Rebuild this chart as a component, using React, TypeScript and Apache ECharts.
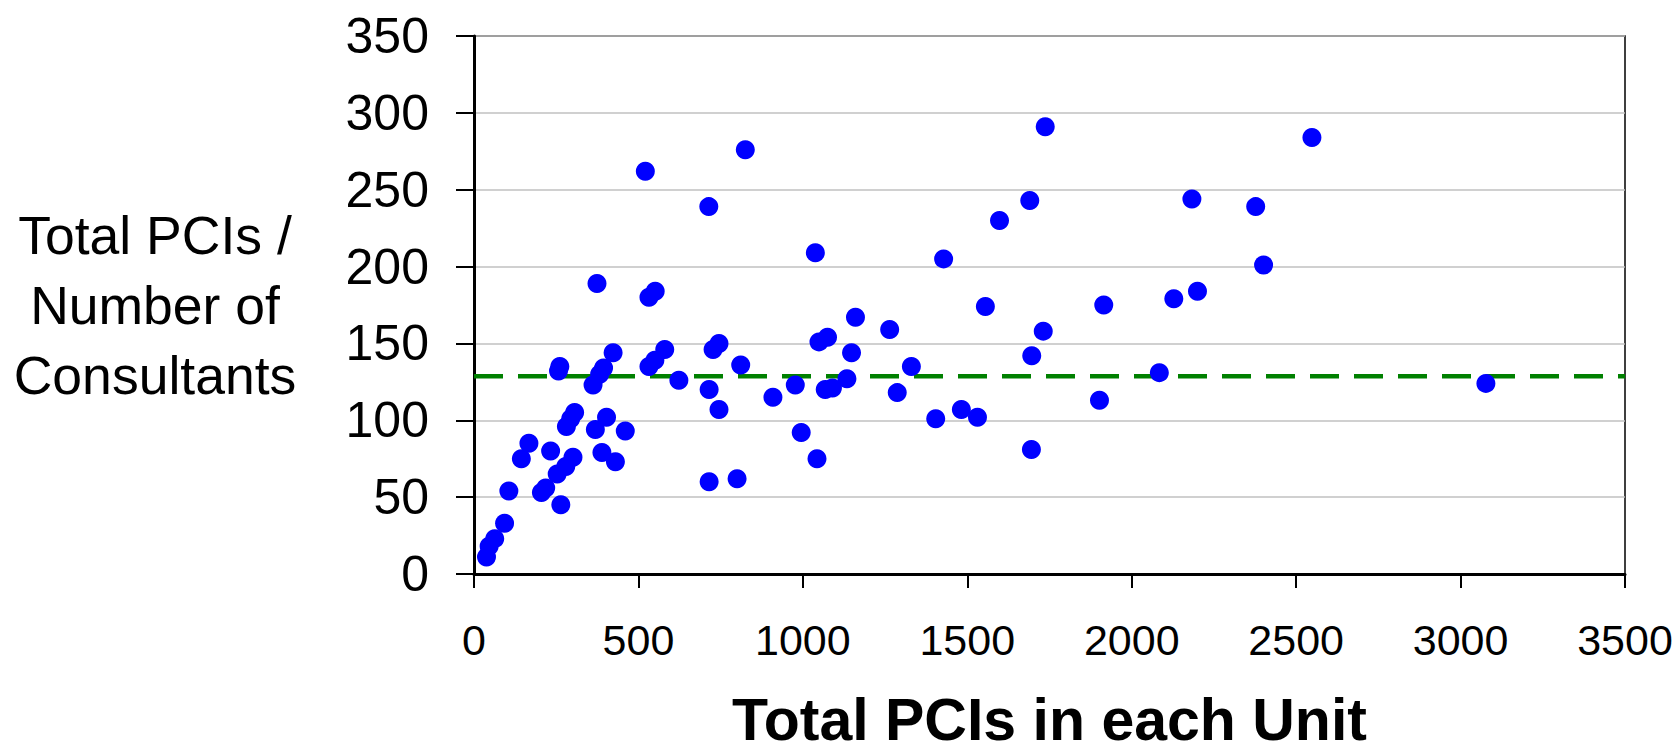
import React, { useEffect, useRef } from "react";
import * as echarts from "echarts";

const totalPCIs: number[] = [
  521, 825, 714, 1038, 374, 551, 532, 1160, 1737, 1690, 1598, 2183, 2377, 1428, 2401, 1555,
  1915, 2128, 2200, 2548, 261, 257, 362, 382, 394, 423, 532, 550, 580, 623, 715, 727, 745,
  745, 811, 909, 977, 995, 1043, 1049, 1075, 1148, 1068, 1090, 1134, 715, 800, 306, 294, 281,
  403, 369, 460, 167, 144, 233, 301, 279, 253, 389, 430, 106, 205, 218, 264, 93, 63, 46, 38,
  1264, 1330, 1287, 1404, 1482, 1531, 1731, 1696, 1695, 1902, 2084, 3077,
];
const pcisPerConsultant: number[] = [
  262, 276, 239, 209, 189, 184, 180, 167, 291, 243, 230, 244, 239, 205, 201, 174,
  175, 179, 184, 284, 135, 132, 123, 130, 134, 144, 135, 139, 146, 126, 120, 146, 150,
  107, 136, 115, 123, 92, 75, 151, 154, 144, 120, 121, 127, 60, 62, 105, 101, 96,
  102, 94, 93, 85, 75, 80, 76, 70, 65, 79, 73, 54, 53, 56, 45, 33, 23, 18, 11,
  159, 135, 118, 101, 107, 102, 158, 142, 81, 113, 131, 124,
];
const averageValue = 128.7;
const xRange: number[] = [0, 3500];
const yTicks: number[] = [0, 50, 100, 150, 200, 250, 300, 350];
const xTicks: number[] = [0, 500, 1000, 1500, 2000, 2500, 3000, 3500];

const FONT = "'Liberation Sans', Arial, Helvetica, sans-serif";
const W = 1677;
const H = 753;

export default function App() {
  const ref = useRef<HTMLDivElement>(null);
  useEffect(() => {
    if (!ref.current) return;
    document.body.style.margin = "0";
    document.body.style.overflow = "hidden";
    const chart = echarts.init(ref.current, null, { renderer: "svg", width: W, height: H });
    const points = totalPCIs.map((x, i) => [x, pcisPerConsultant[i]]);
    chart.setOption({
      animation: false,
      backgroundColor: "#ffffff",
      grid: {
        left: 474,
        right: 52,
        top: 36,
        bottom: 179,
        show: true,
        borderColor: "#000000",
        borderWidth: 1.5,
        backgroundColor: "transparent",
        containLabel: false,
        outerBoundsMode: "none",
      },
      xAxis: {
        type: "value",
        min: xTicks[0],
        max: xTicks[xTicks.length - 1],
        interval: xTicks[1] - xTicks[0],
        name: "Total PCIs in each Unit",
        nameLocation: "middle",
        nameGap: 146,
        nameTextStyle: {
          fontFamily: FONT,
          fontSize: 59,
          fontWeight: "bold",
          color: "#000",
          verticalAlign: "middle",
          lineHeight: 59,
        },
        axisLine: { show: true, onZero: false, lineStyle: { color: "#000", width: 3 } },
        axisTick: { show: true, inside: false, length: 14, lineStyle: { color: "#000", width: 2 } },
        axisLabel: {
          fontFamily: FONT,
          fontSize: 43,
          color: "#000",
          margin: 44,
          formatter: (v: number) => String(v),
        },
        splitLine: { show: false },
      },
      yAxis: {
        type: "value",
        min: yTicks[0],
        max: yTicks[yTicks.length - 1],
        interval: yTicks[1] - yTicks[0],
        name: "Total PCIs /\nNumber of\nConsultants",
        nameLocation: "middle",
        nameRotate: 0,
        nameGap: 319,
        nameTextStyle: {
          fontFamily: FONT,
          fontSize: 53.5,
          color: "#000",
          align: "center",
          verticalAlign: "middle",
          lineHeight: 70,
          padding: [0, 0, 6, 0],
        },
        axisLine: { show: true, onZero: false, lineStyle: { color: "#000", width: 3 } },
        axisTick: { show: true, inside: false, length: 18, lineStyle: { color: "#000", width: 2 } },
        axisLabel: {
          fontFamily: FONT,
          fontSize: 50,
          color: "#000",
          margin: 45,
          formatter: (v: number) => String(v),
        },
        splitLine: { show: true, lineStyle: { color: "#c0c0c0", width: 1.5 } },
      },
      series: [
        {
          type: "line",
          name: "Average",
          z: 1,
          symbol: "none",
          data: xRange.map((x) => [x, averageValue]),
          lineStyle: { color: "#008000", width: 4.5, type: [29, 15] },
        },
        {
          type: "scatter",
          name: "Units",
          z: 3,
          symbol: "circle",
          symbolSize: 19,
          itemStyle: { color: "#0000ff", opacity: 1 },
          data: points,
        },
      ],
    });
    return () => chart.dispose();
  }, []);
  return <div ref={ref} style={{ width: W, height: H, background: "#fff" }} />;
}
